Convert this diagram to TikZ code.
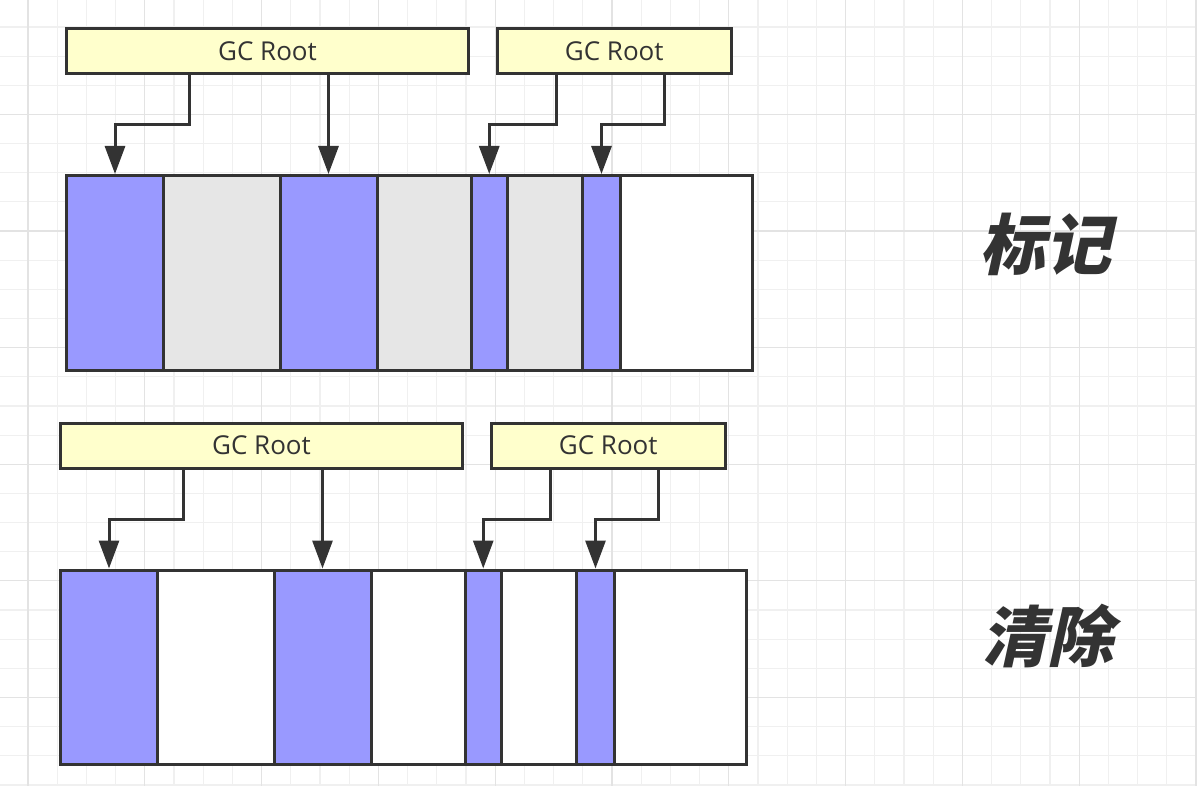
\documentclass[tikz,border=0pt]{standalone}
\usepackage{fontspec}
\setmainfont{Open Sans}
\newfontfamily\cjk{Noto Sans CJK SC}[FakeSlant=0.22]
\usetikzlibrary{arrows.meta}
\definecolor{edge}{HTML}{333333}
\definecolor{txt}{HTML}{333333}
\definecolor{live}{HTML}{9999FF}
\definecolor{dead}{HTML}{E6E6E6}
\definecolor{rootfill}{HTML}{FFFFCC}
\definecolor{gridlight}{HTML}{F0F0F0}
\definecolor{griddark}{HTML}{E3E3E3}
\newcommand{\gcr}{\raisebox{-2pt}{GC Root}}
\tikzset{
  rootbox/.style={draw=edge, fill=rootfill, line width=3pt, minimum height=45pt,
    inner sep=0pt, text=txt, font=\fontsize{26}{30}\selectfont},
  cell/.style={draw=edge, line width=3pt, minimum height=194.5pt, inner sep=0pt},
  livecell/.style={cell, fill=live},
  deadcell/.style={cell, fill=dead},
  freecell/.style={cell, fill=white},
  arr/.style={draw=edge, line width=3pt, -{Triangle[length=28pt,width=20pt]}},
  phase/.style={text=txt, font=\cjk\bfseries\fontsize{66}{72}\selectfont},
  gl/.style={gridlight, line width=1.2pt},
  gd/.style={griddark, line width=1.2pt}
}
\begin{document}
\begin{tikzpicture}[x=1pt,y=-1pt]
\useasboundingbox (0,0) rectangle (1197,786);
\fill[white] (0,0) rectangle (1197,786);
\begin{scope}
\clip (0,0) rectangle (1197,786);
\foreach \i in {0,...,40} \draw[gl] (28+29.2*\i,0) -- (28+29.2*\i,786);
\foreach \k in {0,...,26} \draw[gl] (0,27+29.15*\k) -- (1197,27+29.15*\k);
\foreach \i in {0,4,...,40} \draw[gd] (28+29.2*\i,0) -- (28+29.2*\i,786);
\foreach \k in {3,7,...,23} \draw[gd] (0,27+29.15*\k) -- (1197,27+29.15*\k);
\end{scope}

% ---------- top: mark ----------
\node[livecell, minimum width=97pt]   (a1) at (115,272.75) {};
\node[deadcell, minimum width=116.5pt] (a2) at (221.75,272.75) {};
\node[livecell, minimum width=97pt]   (a3) at (328.5,272.75) {};
\node[deadcell, minimum width=94pt]   (a4) at (424,272.75) {};
\node[livecell, minimum width=36.5pt] (a5) at (489.25,272.75) {};
\node[deadcell, minimum width=75pt]   (a6) at (545,272.75) {};
\node[livecell, minimum width=38pt]   (a7) at (601.5,272.75) {};
\node[freecell, minimum width=132pt]  (a8) at (686.5,272.75) {};

\node[rootbox, minimum width=402pt]   (r1) at (267.5,51) {\gcr};
\node[rootbox, minimum width=234.5pt] (r2) at (614.25,51) {\gcr};

\draw[arr] ([xshift=124pt]r1.south west) -- ++(0,50) -| (a1.north);
\draw[arr] (a3.north |- r1.south) -- (a3.north);
\draw[arr] ([xshift=61pt]r2.south west) -- ++(0,50) -| (a5.north);
\draw[arr] ([xshift=168.5pt]r2.south west) -- ++(0,50) -| (a7.north);

\node[phase] (mark) at (1045,244) {标记};

% ---------- bottom: sweep ----------
\node[livecell, minimum width=97pt]   (b1) at (109,667.25) {};
\node[freecell, minimum width=116.5pt] (b2) at (215.75,667.25) {};
\node[livecell, minimum width=97pt]   (b3) at (322.5,667.25) {};
\node[freecell, minimum width=94pt]   (b4) at (418,667.25) {};
\node[livecell, minimum width=36.5pt] (b5) at (483.25,667.25) {};
\node[freecell, minimum width=75pt]   (b6) at (539,667.25) {};
\node[livecell, minimum width=38pt]   (b7) at (595.5,667.25) {};
\node[freecell, minimum width=132pt]  (b8) at (680.5,667.25) {};

\node[rootbox, minimum width=402pt]   (r3) at (261.5,445.5) {\gcr};
\node[rootbox, minimum width=234.5pt] (r4) at (608.25,445.5) {\gcr};

\draw[arr] ([xshift=124pt]r3.south west) -- ++(0,50) -| (b1.north);
\draw[arr] (b3.north |- r3.south) -- (b3.north);
\draw[arr] ([xshift=61pt]r4.south west) -- ++(0,50) -| (b5.north);
\draw[arr] ([xshift=168.5pt]r4.south west) -- ++(0,50) -| (b7.north);

\node[phase] (sweep) at (1047,636) {清除};
\end{tikzpicture}
\end{document}
